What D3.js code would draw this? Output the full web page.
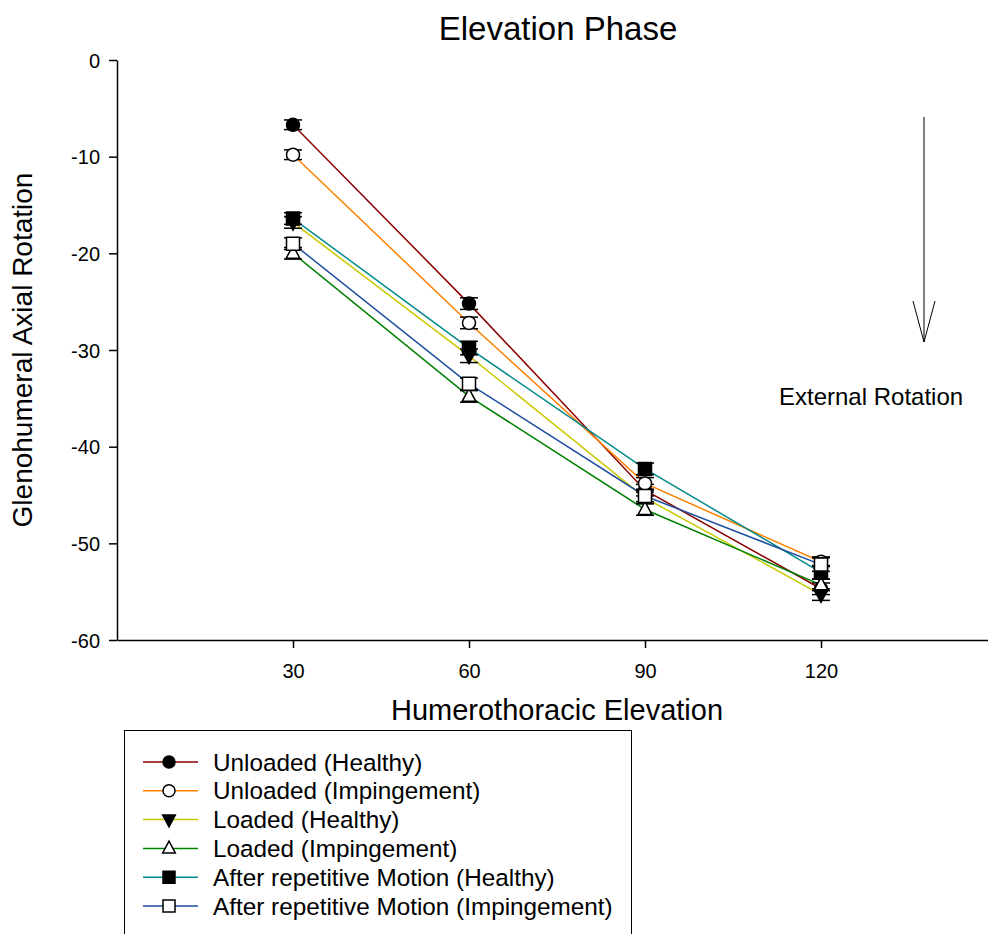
<!DOCTYPE html>
<html>
<head>
<meta charset="utf-8">
<script src="https://cdn.jsdelivr.net/npm/d3@7/dist/d3.min.js"></script>
<style>
  body { margin: 0; background: #fff; }
  svg { display: block; font-family: "Liberation Sans", Arial, sans-serif; }
</style>
</head>
<body>
<svg id="chart" width="988" height="934"></svg>
<script>
// Humerothoracic elevation angles (deg)
const elevations = [30, 60, 90, 120];
const yTicks = [0, -10, -20, -30, -40, -50, -60];

// Series names, styles and mean glenohumeral axial rotation (deg)
const seriesNames = [
  "Unloaded (Healthy)",
  "Unloaded (Impingement)",
  "Loaded (Healthy)",
  "Loaded (Impingement)",
  "After repetitive Motion (Healthy)",
  "After repetitive Motion (Impingement)"
];
const seriesColors = ["#8b0000", "#ff8000", "#c8c800", "#008000", "#008b8b", "#1f4f9f"];
const seriesSymbols = ["circle", "circle", "triDown", "triUp", "square", "square"];
const seriesFilled = [true, false, true, false, true, false];

const unloadedHealthy = [-6.7, -25.2, -44.5, -54.7];
const unloadedImpingement = [-9.8, -27.2, -43.8, -51.9];
const loadedHealthy = [-16.8, -30.6, -45.3, -55.3];
const loadedImpingement = [-20.0, -34.8, -46.5, -54.3];
const repetitiveHealthy = [-16.4, -29.8, -42.3, -53.0];
const repetitiveImpingement = [-19.0, -33.5, -45.1, -52.2];

// Standard error of each mean
const unloadedHealthyErr = [0.5, 0.6, 0.6, 0.6];
const unloadedImpingementErr = [0.5, 0.6, 0.6, 0.5];
const loadedHealthyErr = [0.6, 0.7, 0.6, 0.6];
const loadedImpingementErr = [0.6, 0.6, 0.6, 0.6];
const repetitiveHealthyErr = [0.6, 0.7, 0.6, 0.7];
const repetitiveImpingementErr = [0.6, 0.6, 0.6, 0.7];

const seriesValues = [unloadedHealthy, unloadedImpingement, loadedHealthy,
  loadedImpingement, repetitiveHealthy, repetitiveImpingement];
const seriesErrors = [unloadedHealthyErr, unloadedImpingementErr, loadedHealthyErr,
  loadedImpingementErr, repetitiveHealthyErr, repetitiveImpingementErr];

const svg = d3.select("#chart");
const plot = { left: 117, right: 997, top: 60, bottom: 640 };

const x = d3.scaleLinear().domain([0, 150]).range([plot.left, plot.right]);
const y = d3.scaleLinear().domain([-60, 0]).range([plot.bottom, plot.top]);

// Axes
const xAxis = svg.append("g")
  .attr("transform", `translate(0,${plot.bottom})`)
  .call(d3.axisBottom(x).tickValues(elevations).tickSize(8).tickPadding(16).tickSizeOuter(0));
const yAxis = svg.append("g")
  .attr("transform", `translate(${plot.left},0)`)
  .call(d3.axisLeft(y).tickValues(yTicks).tickFormat(d => String(d))
    .tickSize(8).tickPadding(9).tickSizeOuter(0));
[xAxis, yAxis].forEach(a => {
  a.select(".domain").attr("stroke", "#000").attr("stroke-width", 1.5);
  a.selectAll(".tick line").attr("stroke", "#000").attr("stroke-width", 1.5);
  a.selectAll(".tick text").attr("fill", "#000").style("font-size", "20px")
    .style("font-family", "'Liberation Sans', Arial, sans-serif");
});
yAxis.selectAll(".tick text").attr("dy", "0.35em");

// Titles
svg.append("text").attr("x", 558).attr("y", 40).attr("text-anchor", "middle")
  .style("font-size", "33px").text("Elevation Phase");
svg.append("text").attr("x", 557).attr("y", 720).attr("text-anchor", "middle")
  .style("font-size", "29px").text("Humerothoracic Elevation");
svg.append("text").attr("transform", "translate(32,350) rotate(-90)")
  .attr("text-anchor", "middle").style("font-size", "28px").text("Glenohumeral Axial Rotation");

// Direction annotation
const arrowX = 924;
svg.append("line").attr("x1", arrowX).attr("x2", arrowX).attr("y1", 117).attr("y2", 342)
  .attr("stroke", "#000").attr("stroke-width", 1);
svg.append("path").attr("d", `M${arrowX - 11},301 L${arrowX},342 L${arrowX + 11},301`)
  .attr("fill", "none").attr("stroke", "#000").attr("stroke-width", 1);
svg.append("text").attr("x", 779).attr("y", 405).style("font-size", "24px").text("External Rotation");

// Marker shapes
function symbolPath(kind, s) {
  if (kind === "circle") return `M${-s},0 A${s},${s} 0 1,0 ${s},0 A${s},${s} 0 1,0 ${-s},0 Z`;
  if (kind === "square") return `M${-s},${-s} H${s} V${s} H${-s} Z`;
  if (kind === "triDown") return `M${-s * 1.05},${-s * 0.75} H${s * 1.05} L0,${s * 1.2} Z`;
  return `M${-s * 1.05},${s * 0.75} H${s * 1.05} L0,${-s * 1.2} Z`;
}

const lineGen = d3.line().x((d, i) => x(elevations[i])).y(d => y(d));

// Connecting lines
seriesValues.forEach((vals, k) => {
  svg.append("path").datum(vals).attr("d", lineGen)
    .attr("fill", "none").attr("stroke", seriesColors[k]).attr("stroke-width", 1.5);
});

// Error bars and markers
seriesValues.forEach((vals, k) => {
  const g = svg.append("g");
  vals.forEach((v, i) => {
    const cx = x(elevations[i]);
    const e = seriesErrors[k][i];
    const y1 = y(v + e), y2 = y(v - e);
    g.append("line").attr("x1", cx).attr("x2", cx).attr("y1", y1).attr("y2", y2)
      .attr("stroke", "#000").attr("stroke-width", 1.5);
    [y1, y2].forEach(yy => g.append("line").attr("x1", cx - 9).attr("x2", cx + 9)
      .attr("y1", yy).attr("y2", yy).attr("stroke", "#000").attr("stroke-width", 1.5));
    g.append("path").attr("transform", `translate(${cx},${y(v)})`)
      .attr("d", symbolPath(seriesSymbols[k], 6.5))
      .attr("fill", seriesFilled[k] ? "#000" : "#fff")
      .attr("stroke", "#000").attr("stroke-width", 1.5);
  });
});

// Legend
const legend = svg.append("g");
legend.append("rect").attr("x", 124.5).attr("y", 730.5).attr("width", 507).attr("height", 220)
  .attr("fill", "#fff").attr("stroke", "#000").attr("stroke-width", 1);
seriesNames.forEach((name, k) => {
  const ly = 762 + k * 28.8;
  legend.append("line").attr("x1", 143).attr("x2", 198).attr("y1", ly).attr("y2", ly)
    .attr("stroke", seriesColors[k]).attr("stroke-width", 1.5);
  legend.append("path").attr("transform", `translate(169,${ly})`)
    .attr("d", symbolPath(seriesSymbols[k], 6))
    .attr("fill", seriesFilled[k] ? "#000" : "#fff")
    .attr("stroke", "#000").attr("stroke-width", 1.5);
  legend.append("text").attr("x", 213).attr("y", ly).attr("dy", "0.35em")
    .style("font-size", "24.3px").text(name);
});
</script>
</body>
</html>
